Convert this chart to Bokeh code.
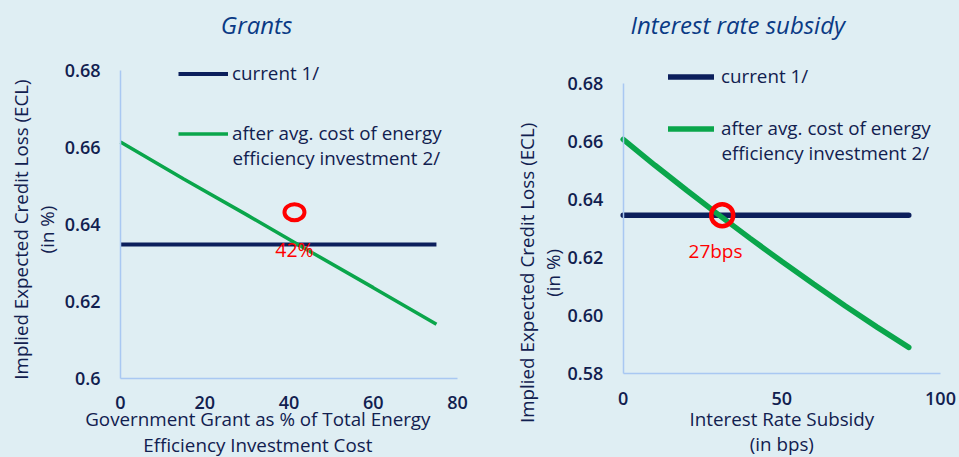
import math
from bokeh.plotting import figure
from bokeh.layouts import row
from bokeh.models import Legend, LegendItem, Label, FixedTicker, Range1d
from bokeh.embed import file_html
from bokeh.resources import INLINE

# ---------------- data ----------------
grant_pct = [0, 15, 30, 45, 60, 75]
grant_current = [0.6348, 0.6348, 0.6348, 0.6348, 0.6348, 0.6348]
grant_after = [0.6614, 0.6518, 0.6425, 0.6330, 0.6236, 0.6141]
grant_mark_x = [41.3]
grant_mark_y = [0.6432]
grant_note = "42%"

subsidy_bps = [0, 10, 20, 30, 40, 50, 60, 70, 80, 90]
subsidy_current = [0.6346, 0.6346, 0.6346, 0.6346, 0.6346, 0.6346, 0.6346, 0.6346, 0.6346, 0.6346]
subsidy_after = [0.6607, 0.6518, 0.6432, 0.6348, 0.6266, 0.6186, 0.6109, 0.6033, 0.5960, 0.5890]
subsidy_mark_x = [31.2]
subsidy_mark_y = [0.6346]
subsidy_note = "27bps"

left_x_ticks = [0, 20, 40, 60, 80]
left_y_ticks = [0.60, 0.62, 0.64, 0.66, 0.68]
left_y_labels = ["0.6", "0.62", "0.64", "0.66", "0.68"]
right_x_ticks = [0, 50, 100]
right_y_ticks = [0.58, 0.60, 0.62, 0.64, 0.66, 0.68]
right_y_labels = ["0.58", "0.60", "0.62", "0.64", "0.66", "0.68"]

series_names = ["current 1/", "after avg. cost of energy", "efficiency investment 2/"]
titles = ["Grants", "Interest rate subsidy"]
ylabel = "Implied Expected Credit Loss (ECL)\n(in %)"
xlabel_left = "Government Grant as % of Total Energy\nEfficiency Investment Cost"
xlabel_right = "Interest Rate Subsidy\n(in bps)"

# ---------------- style ----------------
BG = "#dfeef3"
TXT = "#11204f"
NAVY = "#0c1f5c"
GREEN = "#0aa64b"
RED = "#ff0000"
AXIS = "#a9c8f2"
TITLE = "#0a3a85"
FONT = "Open Sans Medium, Open Sans"
TICK_FONT = "Open Sans SemiBold, Open Sans"
FS = "18.8px"
H = 457


def span(v0, v1, p0, p1, size):
    """Range whose values v0, v1 land at pixels p0, p1 of a frame of given size."""
    k = (p1 - p0) / (v1 - v0)
    return Range1d(v0 - p0 / k, v0 + (size - p0) / k)


def make_fig(width, xb, yb, xpx, ypx, xt, yt, ylabels, xstand):
    # xpx: pixels (from left) of xb ends; ypx: pixels (from top) of yb ends
    p = figure(width=width, height=H,
               x_range=span(xb[0], xb[1], xpx[0], xpx[1], width),
               y_range=span(yb[0], yb[1], H - ypx[0], H - ypx[1], H),
               output_backend="svg", toolbar_location=None, min_border=0,
               background_fill_color=BG, border_fill_color=BG, outline_line_color=None)
    p.grid.visible = False
    xa, ya = p.xaxis[0], p.yaxis[0]
    for ax in (xa, ya):
        ax.axis_line_color = AXIS
        ax.axis_line_width = 1.5
        ax.major_tick_line_color = None
        ax.minor_tick_line_color = None
        ax.major_tick_out = 0
        ax.major_tick_in = 0
        ax.minor_tick_out = 0
        ax.major_label_text_font = TICK_FONT
        ax.major_label_text_font_size = "18px"
        ax.major_label_text_color = TXT
    xa.ticker = FixedTicker(ticks=xt)
    ya.ticker = FixedTicker(ticks=yt)
    ya.major_label_overrides = {v: s for v, s in zip(yt, ylabels)}
    xa.bounds = xb
    ya.bounds = yb
    xa.fixed_location = yb[0]
    ya.fixed_location = xb[0]
    ya.major_label_standoff = 20
    xa.major_label_standoff = xstand
    return p


def lbl(p, x, y, text, color=TXT, size=FS, style="normal", angle=0.0,
        align="center", lh=1.0, font=FONT):
    p.add_layout(Label(x=x, y=y, text=text, text_font=font, text_font_size=size,
                       text_color=color, text_font_style=style, angle=angle,
                       text_align=align, text_baseline="middle",
                       text_line_height=lh))


# ---------------- left: grants ----------------
p1 = make_fig(480, (0, 80), (0.60, 0.68), (120, 457), (378, 70),
              left_x_ticks, left_y_ticks, left_y_labels, 17)
r1a = p1.line(grant_pct, grant_current, line_color=NAVY, line_width=4)
r1b = p1.line(grant_pct, grant_after, line_color=GREEN, line_width=3.5)
p1.ellipse(x=grant_mark_x, y=grant_mark_y, width=20, height=16, width_units="screen",
           height_units="screen", fill_alpha=0, line_color=RED, line_width=4)
lbl(p1, 41.3, 0.6335, grant_note, color=RED, size="19.5px")
leg1 = Legend(items=[LegendItem(label=series_names[0], renderers=[r1a]),
                     LegendItem(label=series_names[1], renderers=[r1b])],
              location=(178, 311), padding=0, margin=0, spacing=34, glyph_width=50,
              glyph_height=25, label_height=25, label_standoff=4,
              label_text_font=FONT, label_text_font_size=FS, label_text_color=TXT,
              border_line_color=None, background_fill_alpha=0)
p1.add_layout(leg1)
lbl(p1, 26.6, 0.6574, series_names[2], align="left")
lbl(p1, 32.3, 0.6920, titles[0], color=TITLE, size="24px", style="italic",
    font="Open Sans")
lbl(p1, -20.6, 0.6387, ylabel, angle=math.pi / 2, lh=1.0)
lbl(p1, 32.6, 0.5861, xlabel_left, lh=0.98)

# ---------------- right: interest rate subsidy ----------------
p2 = make_fig(479, (0, 100), (0.58, 0.68), (142.7, 460), (373, 83),
              right_x_ticks, right_y_ticks, right_y_labels, 18)
r2a = p2.line(subsidy_bps, subsidy_current, line_color=NAVY, line_width=5.5,
              line_cap="round")
r2b = p2.line(subsidy_bps, subsidy_after, line_color=GREEN, line_width=5.5,
              line_cap="round")
p2.scatter(x=subsidy_mark_x, y=subsidy_mark_y, marker="circle", size=22,
           fill_alpha=0, line_color=RED, line_width=4.5)
lbl(p2, 29.1, 0.6224, subsidy_note, color=RED, size="19px")
leg2 = Legend(items=[LegendItem(label=series_names[0], renderers=[r2a]),
                     LegendItem(label=series_names[1], renderers=[r2b])],
              location=(188, 316), padding=0, margin=0, spacing=26, glyph_width=46,
              glyph_height=25, label_height=25, label_standoff=7,
              label_text_font=FONT, label_text_font_size=FS, label_text_color=TXT,
              border_line_color=None, background_fill_alpha=0)
p2.add_layout(leg2)
lbl(p2, 31.0, 0.6562, series_names[2], align="left")
lbl(p2, 36.1, 0.7003, titles[1], color=TITLE, size="24px", style="italic",
    font="Open Sans")
lbl(p2, -26.3, 0.6147, ylabel, angle=math.pi / 2, lh=1.0)
lbl(p2, 50.0, 0.5600, xlabel_right, lh=0.98)

layout = row(p1, p2)
html = file_html(layout, INLINE)
html = html.replace("</head>", "<style>html,body{margin:0;padding:0;background:"
                    + BG + ";overflow:hidden;}</style></head>", 1)
open("out.html", "w").write(html)
